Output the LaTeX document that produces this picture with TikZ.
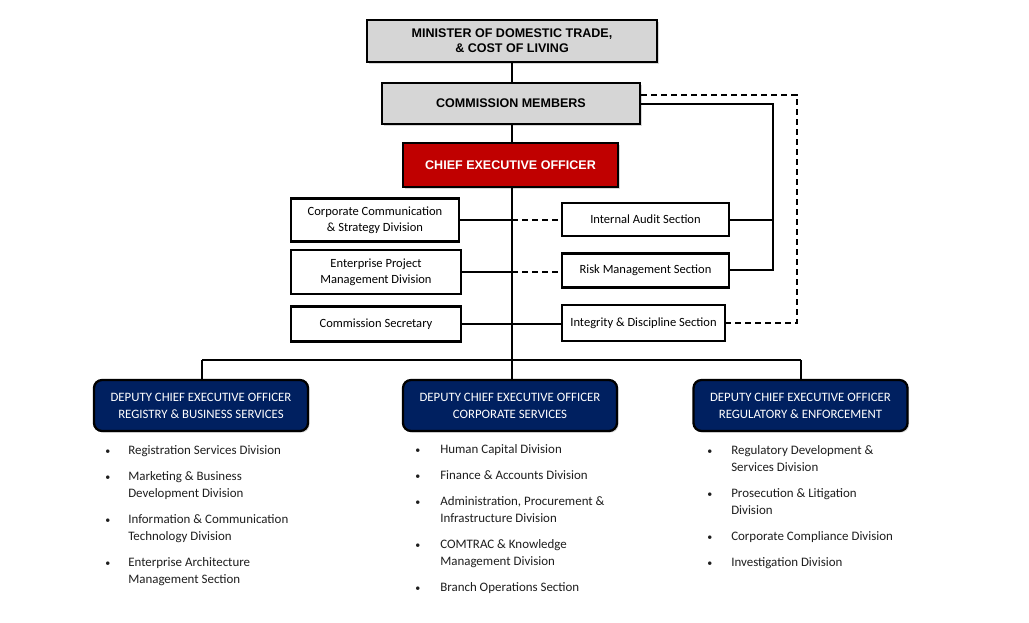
\documentclass[tikz,border=0pt]{standalone}
\usepackage{fontspec}
\setmainfont{Carlito}
\newfontfamily\arialf{Liberation Sans}
\usetikzlibrary{shadows}
\definecolor{boxgray}{RGB}{214,214,214}
\definecolor{ceored}{RGB}{192,0,0}
\definecolor{navy}{RGB}{0,32,96}
\definecolor{listtext}{RGB}{30,30,30}
\newcommand{\bul}{{\fontsize{7.5}{7.5}\selectfont •}}
\begin{document}
\begin{tikzpicture}[x=0.75pt,y=-0.75pt,
  topbox/.style={draw=black, line width=1.9pt, fill=boxgray, align=center, inner sep=0pt,
    font=\arialf\bfseries\fontsize{9.4}{11}\selectfont,
    drop shadow={shadow xshift=1.2pt, shadow yshift=-1.2pt, opacity=.3, fill=gray}},
  ceobox/.style={topbox, fill=ceored, text=white},
  unitbox/.style={draw=black, line width=1.7pt, fill=white, align=center, inner sep=0pt,
    font=\fontsize{9.4}{12.3}\selectfont},
  deputybox/.style={draw=black, line width=1.7pt, fill=navy, text=white, rounded corners=6pt,
    align=center, inner sep=0pt, minimum width=160.5pt, minimum height=38.25pt,
    font=\fontsize{9.6}{12.6}\selectfont,
    drop shadow={shadow xshift=1.2pt, shadow yshift=-1.2pt, opacity=.3, fill=gray}},
  conn/.style={line width=1.5pt},
  dconn/.style={line width=1.5pt, dash pattern=on 4.5pt off 3pt},
  listnode/.style={anchor=north west, inner sep=0pt, text=listtext,
    font=\fontsize{9.7}{12.75}\selectfont}
]
\useasboundingbox (0,0) rectangle (1029,622);
\fill[white] (0,0) rectangle (1029,622);

% top chain
\node[topbox, minimum width=217.5pt, minimum height=31.5pt] (min) at (512,41)
  {MINISTER OF DOMESTIC TRADE,\\ \& COST OF LIVING};
\node[topbox, minimum width=193.5pt, minimum height=30.75pt] (cm) at (511,103.5)
  {COMMISSION MEMBERS};
\node[ceobox, minimum width=161.25pt, minimum height=33pt] (ceo) at (510.5,165)
  {CHIEF EXECUTIVE OFFICER};

% left units
\node[unitbox, minimum width=126pt, minimum height=32.25pt] (cc) at (375,220)
  {Corporate Communication\\ \& Strategy Division};
\node[unitbox, minimum width=127.5pt, minimum height=33pt] (ep) at (376,272)
  {Enterprise Project\\ Management Division};
\node[unitbox, minimum width=127.5pt, minimum height=26.25pt] (cs) at (376,324)
  {Commission Secretary};

% right units
\node[unitbox, minimum width=125.25pt, minimum height=24.75pt] (ia) at (645.5,219.5)
  {Internal Audit Section};
\node[unitbox, minimum width=125.25pt, minimum height=25.5pt] (rm) at (645.5,270.5)
  {Risk Management Section};
\node[unitbox, minimum width=122.25pt, minimum height=27pt] (id) at (643.5,323)
  {Integrity \& Discipline Section};

% deputies
\node[deputybox] (d1) at (201,405.5) {DEPUTY CHIEF EXECUTIVE OFFICER\\ REGISTRY \& BUSINESS SERVICES};
\node[deputybox] (d2) at (510,405.5) {DEPUTY CHIEF EXECUTIVE OFFICER\\ CORPORATE SERVICES};
\node[deputybox] (d3) at (800.5,405.5) {DEPUTY CHIEF EXECUTIVE OFFICER\\ REGULATORY \& ENFORCEMENT};

% coordinates
\coordinate (sp1) at (512,220);
\coordinate (sp2) at (512,272);
\coordinate (sp3) at (512,324);
\coordinate (bus) at (512,360);
\coordinate (busL) at (202,360);
\coordinate (busR) at (801,360);
\coordinate (cmR1) at (773,104);
\coordinate (cmR2) at (797,95);
\coordinate (rmR) at (773,270);
\coordinate (iaR) at (773,220);
\coordinate (idR) at (797,323);

\draw[conn] (512,62) -- (512,83);
\draw[conn] (512,124) -- (512,143);
\draw[conn] (512,187) -- (bus);
\draw[conn] (busL) -- (busR);
\draw[conn] (busL) -- (busL |- d1.north);
\draw[conn] (bus) -- (bus |- d2.north);
\draw[conn] (busR) -- (busR |- d3.north);

\draw[conn] (cc.east |- sp1) -- (sp1);
\draw[dconn] (sp1) -- (ia.west |- sp1);
\draw[conn] (ep.east |- sp2) -- (sp2);
\draw[dconn] (sp2) -- (rm.west |- sp2);
\draw[conn] (cs.east |- sp3) -- (id.west |- sp3);

\draw[conn] (cm.east |- cmR1) -- (cmR1) -- (rmR) -- (rm.east |- rmR);
\draw[conn] (ia.east |- iaR) -- (iaR);
\draw[dconn] (cm.east |- cmR2) -- (cmR2) -- (idR) -- (id.east |- idR);

% lists
\node[listnode] (l1) at (105,442) {%
\begin{tabular}{@{}p{17.25pt}@{}l@{}}
\bul & Registration Services Division\\[6.75pt]
\bul & Marketing \& Business\\
  & Development Division\\[6.75pt]
\bul & Information \& Communication\\
  & Technology Division\\[6.75pt]
\bul & Enterprise Architecture\\
  & Management Section
\end{tabular}};
\node[listnode] (l2) at (415,441) {%
\begin{tabular}{@{}p{18.75pt}@{}l@{}}
\bul & Human Capital Division\\[6.75pt]
\bul & Finance \& Accounts Division\\[6.75pt]
\bul & Administration, Procurement \&\\
  & Infrastructure Division\\[6.75pt]
\bul & COMTRAC \& Knowledge\\
  & Management Division\\[6.75pt]
\bul & Branch Operations Section
\end{tabular}};
\node[listnode] (l3) at (707,442) {%
\begin{tabular}{@{}p{18pt}@{}l@{}}
\bul & Regulatory Development \&\\
  & Services Division\\[6.75pt]
\bul & Prosecution \& Litigation\\
  & Division\\[6.75pt]
\bul & Corporate Compliance Division\\[6.75pt]
\bul & Investigation Division
\end{tabular}};
\end{tikzpicture}
\end{document}
